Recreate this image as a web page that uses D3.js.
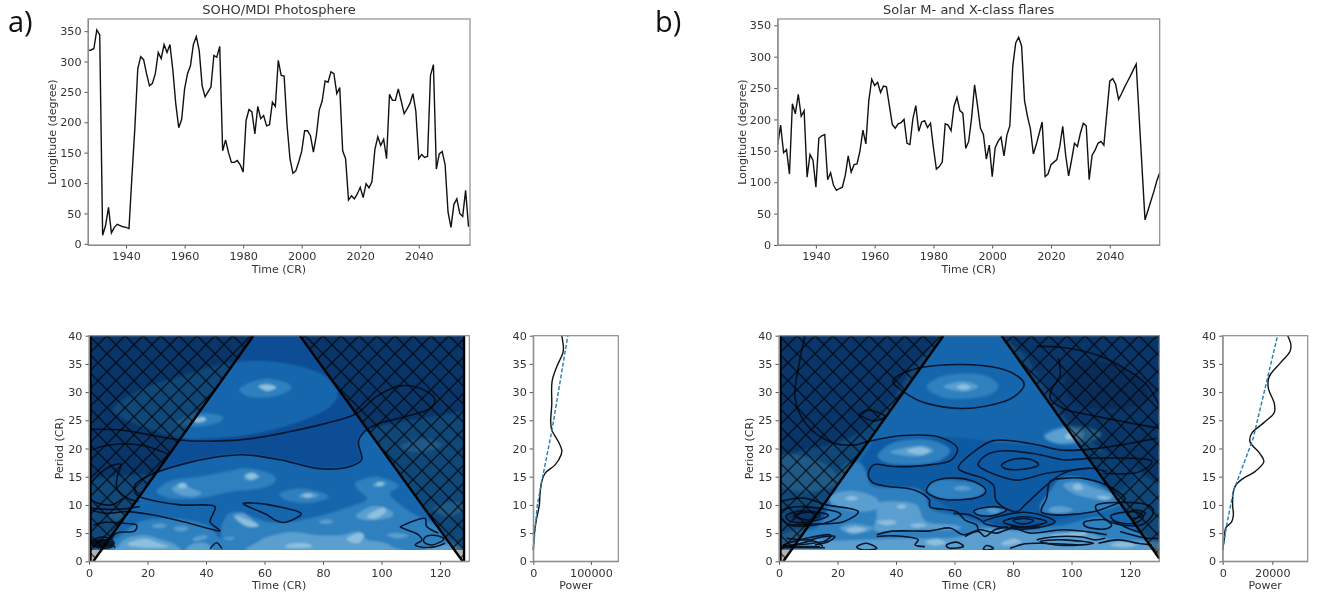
<!doctype html>
<html>
<head>
<meta charset="utf-8">
<script src="https://d3js.org/d3.v7.min.js"></script>
<style>
  html, body { margin: 0; padding: 0; background: #fff; overflow: hidden; }
  svg { display: block; filter: blur(0.45px); }
  text { font-family: "DejaVu Sans", sans-serif; fill: #333; }
  .domain { stroke: #8c8c8c; }
  .tick line { stroke: #555; }
</style>
</head>
<body>
<svg width="1317" height="597"></svg>
<script>
// carrington rotations for the two top panels
var crStart = 1927
var yearTicks = [1940, 1960, 1980, 2000, 2020, 2040]
var longTicks = [0, 50, 100, 150, 200, 250, 300, 350]
var timeTicks = [0, 20, 40, 60, 80, 100, 120]
var periodTicks = [0, 5, 10, 15, 20, 25, 30, 35, 40]

var longitudeMdi = [318,319,321,352,344,14,30,60,18,27,32,30,28,27,25,110,190,288,308,303,280,260,264,280,315,305,328,315,328,285,230,191,205,255,280,293,328,341,318,260,242,250,258,310,307,325,153,171,150,134,134,137,130,118,203,221,217,181,226,206,211,194,196,233,226,302,277,276,195,140,116,120,135,152,186,186,178,151,178,220,235,268,266,283,280,247,257,153,140,72,79,74,82,93,76,99,92,102,155,176,162,172,140,246,236,236,255,235,214,222,231,247,218,140,147,142,144,277,295,123,148,152,130,52,27,65,74,50,45,88,28]
var longitudeFlares = [160,191,147,152,113,225,209,240,205,214,108,144,135,92,170,174,176,104,115,95,87,90,92,111,142,116,128,129,150,183,161,230,264,254,259,243,253,252,222,192,186,193,195,200,162,160,201,222,181,196,198,187,194,155,121,125,132,193,191,182,221,235,214,210,154,165,203,255,222,186,176,137,159,109,155,165,172,142,175,190,285,322,331,317,230,205,185,145,160,178,196,109,113,128,132,136,157,189,143,110,135,162,157,178,194,190,104,143,151,162,165,159,210,261,265,256,232,241,251,260,269,279,288,205,122,40,55,70,85,102,115]

// global wavelet spectrum, [power, period]
var powerMdi = [[0,2],[2900,5.9],[5800,7.6],[10500,10],[11600,11.8],[14500,14.1],[20300,15.6],[37800,17.1],[48300,18.9],[49400,19.7],[43600,21.2],[32000,23.3],[30200,24.8],[32000,27.7],[32600,31.9],[40700,34.5],[51200,36.9],[52300,37.8],[49400,40]]
var signifMdi = [[0,2],[7000,10],[17400,15.6],[32000,23],[59900,40]]
var powerFlares = [[0,2],[670,4.1],[1200,5.9],[3600,7],[4300,8.2],[4000,10],[4300,12.4],[5600,13.7],[8300,14.7],[13000,15.9],[16600,17.7],[15000,19.1],[11000,21.2],[11700,22.7],[16400,24.5],[20800,26.4],[20800,28],[18400,30.7],[18700,32.7],[23100,35.1],[27100,37.2],[27500,38.4],[26200,40]]
var signifFlares = [[0,2],[1600,6.4],[4300,12.4],[12300,21.8],[22100,40]]

// filled wavelet power bands, traced as [time, period]
var mdiBand2 = [
  [[-5,13],[8,15],[20,15.5],[31,17.2],[42.5,18.5],[53,19],[65,18.1],[79,16.5],[89,16.9],[93,18.1],[92,21.2],[94.4,23.1],[100,24],[110,25],[128,26.5],[135,27],[135,1],[-5,1]],
  [[8.3,27.1],[17.4,30.4],[28.8,32.4],[47,35.1],[63,35.4],[77.8,33.6],[84.7,30.4],[82.4,27.4],[72.1,24.8],[57.3,22.7],[42.5,21.8],[32.3,21.8],[23.1,23],[12.9,25]]
]
var mdiBand3 = [
  [[9.5,4.1],[17.4,7],[28.8,7.6],[40.2,6.4],[44.8,4.1],[45.4,6.4],[49.4,8.8],[60.7,7],[68.7,7],[77.8,7.9],[85.8,9.1],[94.9,10.9],[91.5,12.9],[91.5,14.1],[98.3,15],[105.8,13.5],[102.9,11.8],[109.7,8.8],[116.6,7],[120,5.9],[124.6,3.5],[135,2],[135,1],[-5,1],[-5,3],[5,3.2]],
  [[23.4,12.7],[28.8,14.4],[38,15],[47.1,15.9],[53.9,16.5],[61.9,15.6],[63.6,14.1],[58.5,12.9],[49.4,12.4],[38,11.2],[28.8,11.1],[24.3,11.8]],
  [[65.5,12.1],[72.1,12.9],[80.1,12.1],[81.5,11.2],[74.4,10.3],[67,10.9]],
  [[51.6,30.7],[59.6,32.3],[67.6,31.6],[68.7,30.4],[63,29.2],[55,29.2]],
  [[30,24.8],[36.8,26.2],[44.8,25.9],[44.8,24.8],[38,23.9],[31.1,24.2]],
  [[106.9,20.6],[114.3,21.8],[120.6,20.6],[114.3,19.4],[108,19.7]],
  [[117.8,9.4],[124.6,10.6],[129,9.4],[122.3,7.9]],
  [[6,8.2],[10,9],[13,8],[10,7.2]]
]
var mdiBand4 = [
  [[28.3,12.9],[31.7,13.8],[35.1,12.9],[38.5,12.1],[35.7,11.5],[31.1,11.8]],
  [[52.8,15],[55.6,15.6],[58.5,15],[55,14.3]],
  [[71.6,11.6],[75.7,12.1],[78.5,11.6],[74.4,11.2]],
  [[91.5,8.3],[97.2,9.8],[102.9,9.1],[103.5,7.9],[97.2,7.3],[92.7,7.5]],
  [[97.2,13.7],[100.6,14.1],[101.2,13.5],[97.9,13.2]],
  [[78.5,7],[81.4,7.4],[83.6,7],[80.7,6.6]],
  [[21.4,6.3],[24.3,6.7],[26.6,6.3],[23.7,5.9]],
  [[28.8,5.9],[32.3,6.2],[34,5.7],[31.1,5.3]],
  [[49.4,7.9],[52.8,8.5],[57.4,6.6],[57.4,6.1],[52.8,6.4]],
  [[10,1.5],[10.5,3],[13,4.1],[19,4.6],[25,3.8],[29.5,2.9],[30,1.5]],
  [[35.7,4.1],[39.7,4.6],[40.2,4.1],[36.3,3.6]],
  [[46,4.1],[49.4,4.3],[48.8,3.8]],
  [[57,1.5],[58,3.5],[63,4.6],[70,5.2],[78,4.6],[86,4.6],[90,5.1],[93,5.2],[95,3.8],[100,3.4],[104,2.5],[105,1.5]],
  [[101.8,4.7],[105.2,5],[109.2,4.5],[105.2,4.1]],
  [[115,1.5],[117,2.8],[125,2.8],[126,1.5]],
  [[33,1.5],[35,3],[40,3.2],[42,1.5]]
]
var mdiBand5 = [
  [[30.5,13.6],[32.5,13.9],[33.5,13.2],[31,12.9]],
  [[53.5,15.3],[56,15.7],[57.5,15],[55,14.5]],
  [[73,11.8],[75,12],[76.5,11.6],[74.5,11.3]],
  [[58,31],[61,31.4],[64,30.8],[61,30.2]],
  [[36,25.2],[39,25.6],[40,25],[37,24.6]],
  [[95,8],[100,9.5],[101.5,8.8],[98,7.6]],
  [[98.5,14],[100.5,14],[100.5,13.5],[98.5,13.4]],
  [[13,3],[19,4],[24,3.2],[27,2.6],[20,2.4]],
  [[88,3.9],[92,5],[94,4.6],[92,3.2]],
  [[68,3],[74,3.2],[76,2.5],[68,2.4]],
  [[50,8],[54,7.4],[58,6.4],[54,6.2]]
]
var mdiContours = [
  [[0,23.4],[10.6,23.3],[20.9,22.4],[31.1,21.5],[42.5,21.3],[56.2,21.8],[68.7,23],[81.3,24.5],[91.5,26.2],[98.3,29.2],[106.3,31.1],[114.3,30.4],[118.3,28.6],[116.6,27.1],[108.6,25.7],[99.5,24.5],[94.4,23.1],[92.1,21.2],[93.2,18],[89.2,16.8],[79,16.4],[65.3,18],[52.8,18.9],[42.5,18.4],[31.1,17.1],[20.9,15.3],[15.7,13.5],[16.3,11.8],[20.9,10.9],[31.1,10],[43.1,9.7],[42.5,8.5],[41.4,7],[44.8,5.4],[40.2,5.9],[32.3,7],[22,8.2],[12.9,8.8],[6,8.5],[0,9.2]],
  [[0,19.5],[4,20.3],[10,20.8],[19,20.5],[27,19]],
  [[0,13.5],[3.8,15.6],[7.2,16.8],[10.9,17.2],[9.7,15],[9.5,12.9],[13.1,11.2],[16.9,10.6]],
  [[0,11.2],[2.6,10.4],[7.7,10],[11.7,11.2]],
  [[0,9.4],[9.5,9.2],[17.4,9.7]],
  [[1.5,6.4],[4.9,6.9],[12.9,6.7],[16.3,6.4],[15.7,5.4],[9.5,5],[7.7,3.8],[8.9,2.4]],
  [[41.4,2.2],[43.6,3.3],[45.4,2.3]],
  [[106.3,6.1],[110.3,7],[114.9,7.6],[115.4,6.2],[119.4,5]],
  [[106.3,6.1],[109,5.5],[112.6,4.7],[113.8,3.8],[111.5,2.9],[113.8,2.5],[118.3,2.6],[121.7,3.2]],
  [[1,3],[8,3]],
  [[1,3.4],[8,3.5]],
  [[1,2.7],[8,2.6]],
  [[1,3.2],[8,3.2]],
  [[1,2.9],[8,2.8]],
  [[1,3.7],[7,3.8]]
]
var mdiLoops = [
  [[52.8,10.3],[60.7,10.1],[71.6,8.8],[71.6,7.9],[67,6.9],[63.6,7.3],[60.7,8.3],[56.2,9.3]],
  [[114.4,3.5],[115.5,4.5],[119.5,4.5],[121.2,3.8],[117.2,2.9]],
  [[1,3.6],[5,4.3],[8.5,3.4],[7,2.4],[2,2.6]],
  [[1.5,3.2],[5,3.8],[7.5,3],[5,2.6]],
  [[2,3.4],[5,3.4],[7,2.8],[3,2.8]]
]

var flaresDark = [
  [[78,42],[85,36],[92,30],[100,24],[110,20],[120,17],[135,15],[135,42]],
  [[-5,42],[52,42],[44,33],[33,25],[22,21.5],[10,20],[-5,20]],
  [[3,8.5],[10,9.7],[17,8.5],[12,7],[5,7]],
  [[72,7],[83.6,8.5],[94.4,7],[83.6,5.7]]
]
var flaresShade = [
  [[31,20],[35,21.5],[60,22],[75,21],[90,20.5],[100,20],[112,19],[122,15],[100,8],[85,7],[71,7],[60,9],[50,12],[47,13],[33,13.5],[30.5,15],[28,17.5]]
]
var flaresDarkest = [
  [[98.3,33],[104,35.7],[117.7,34.2],[125.7,30.7],[124,27.7],[108.6,27.1],[99.5,28.9]]
]
var flaresBand3 = [
  [[27.7,17.4],[30.5,15],[32.8,13.2],[46.5,12.9],[49.9,11.5],[52.2,9.1],[59.6,8.2],[65.3,7.3],[71,6.4],[80.1,6],[85.8,5.9],[97.2,6.4],[108.6,7.9],[114.3,7],[130,3.5],[135,3],[135,1],[-5,1],[-5,3],[5,5.5],[13,6],[18,11],[22,17]],
  [[92.6,12.4],[96.1,14.7],[101.8,15],[108.6,13.8],[116.6,11.2],[117.7,10.3],[108.6,8.8],[92.6,8.5],[89.2,9.7]],
  [[50.5,12.9],[55,14.4],[65.3,14.1],[70.4,12.9],[66.4,11.2],[55,11.2]],
  [[34,19.1],[40.2,21.2],[51.6,21.5],[58.5,19.7],[53.9,17.7],[43.6,17.1],[35.7,17.7]],
  [[50.5,31],[57.3,33],[69.9,33],[75,31],[69.9,29.2],[57.3,28.9]],
  [[90.4,22.4],[97.2,23.9],[106.3,23.6],[110.3,22.4],[104,20.9],[94.9,20.9]],
  [[67,9.1],[73.3,9.7],[77.8,9.1],[73.3,8.1],[68.1,8.2]],
  [[104.6,7],[110.9,7.4],[113.7,6.4],[110.9,5.7],[105.2,6.1]],
  [[0,18.3],[6,18.9],[16.3,17.1],[20.3,14.1],[11.7,12.4],[0,13.5]]
]
var flaresBand4 = [
  [[17.4,11.5],[24.3,12.5],[32.3,11.5],[34.5,9.7],[28.8,8.8],[19.7,9.7]],
  [[34,10.3],[40.2,10.6],[47,10],[50.5,7],[60.7,6.4],[60.7,5.6],[47,5.6],[33.4,5.3],[33.4,7.9]],
  [[20.9,5.9],[25.4,6.6],[32.3,5.9],[25.4,4.8]],
  [[3,1],[10,4],[20,3.7],[40,4],[60,4.2],[70,5.8],[78,5.5],[90,5],[105,5],[112,4],[125,3.6],[135,3],[135,1]],
  [[56.2,31],[63,31.9],[68.1,31],[63,30.1]],
  [[38,19.4],[48.2,20.5],[52.8,19.6],[47,18.6]],
  [[90.9,22.1],[97.2,23.6],[104,23],[102.9,21.5],[96.1,20.9]],
  [[97.2,13.5],[101.8,14.1],[108.6,12.9],[114.3,11.8],[110.9,10.9],[101.8,11.8]],
  [[92.6,9.4],[96.1,9.8],[100.6,9.1],[96.1,8.5],[92.6,8.7]],
  [[71,9.1],[73.3,9.4],[75.6,8.9],[73.3,8.5]],
  [[59.6,12.9],[62.5,13.4],[65.9,12.9],[62.5,12.5]]
]
var flaresBand5 = [
  [[60.7,30.9],[63,31.4],[65.5,30.9],[63,30.4]],
  [[43.6,19.6],[48.2,20.2],[51.6,19.6],[48.2,18.9]],
  [[97.8,22.3],[100,22.9],[100.6,21.8],[98.3,21.7]],
  [[100.3,13.2],[102.3,13.8],[104,12.9],[101.8,12.6]],
  [[22.6,11.2],[24.8,11.6],[27.1,11.2],[24.8,10.8]],
  [[40.2,9.7],[41.9,10.1],[43.6,9.7],[41.9,9.3]],
  [[108.6,11.5],[110.9,11.6],[113.7,11.2],[110.9,10.9]],
  [[33.4,7],[37.9,7.3],[40.2,6.9],[36.8,6.4]],
  [[44.8,6.4],[47.6,6.7],[50.5,6.4],[47,6]],
  [[23,5.7],[26.6,6.1],[30,5.6],[25.4,5.1]],
  [[93.8,4.7],[104,5.3],[104,4.6],[93.8,4.4]],
  [[113.2,2.9],[117.7,3.4],[122.3,2.9],[117.7,2.5]],
  [[50,3.4],[54,4],[57,3.2],[53,2.8]],
  [[76,3.2],[80,4],[83,3.4],[78,2.8]]
]
var flaresContours = [
  [[88.1,38.1],[97.2,37.9],[108.6,36.6],[120,33.6],[125.7,31.3],[130,27.7]],
  [[95.5,36],[96.1,33],[93.2,30.4],[92.7,28.9],[97.2,27.1],[108.6,25.7],[130,23.6]],
  [[8.9,40],[6.6,34.2],[5.5,28.9],[9.5,24.2],[17.4,21.2],[25.4,20.6],[30,21.2],[42.5,22.3],[55,22],[61,20],[59,18],[51.6,17.1],[39.1,16.8],[32.3,17.1],[30.5,15.3],[31.7,14.1],[35.7,13.4],[46.5,12.6],[51.4,10.9],[51.6,9.7],[60.7,8.8],[63.6,7.3],[67.6,6.4],[68.1,5.3]],
  [[112,15.9],[106.3,16.5],[97.2,15.6],[91.5,13.5],[84.1,10],[81.3,8.8],[74.4,10.6],[73.3,13.5],[69.9,14.7],[61.3,16.5],[67.6,19.8],[73.3,21.4],[85.9,20.9],[97.2,19.7],[108.6,20],[129,21.8]],
  [[106.3,16.5],[91.5,15.6],[81.3,14.4],[74.4,15.3],[68.1,17.1],[71,18.9],[76.7,19.6],[89.2,18.9],[97.2,18],[108.6,18.3],[127.4,17.7],[123.4,15.9],[110.9,15.6]],
  [[33.4,4.7],[38,5.3],[51.6,5.4],[58.5,5.9],[63,4.7],[68.7,5.6],[74.4,5],[80,5.9],[85.8,5],[97.2,5.6],[108.6,5],[112,4.7]],
  [[59.6,8.5],[65.3,8.2],[69.9,7]],
  [[0.5,10.6],[8.3,11.2],[16.3,10],[27.1,8.8],[22,7],[10.6,6.6],[2.6,6.4]],
  [[116.6,5.3],[125.7,4.1],[130,4.1]],
  [[79,6.1],[89.2,6.1]],
  [[79,6],[89.2,6]],
  [[0.5,2.4],[15.7,2.4]],
  [[0.5,2.6],[14,2.6]],
  [[1,2.6],[6,3],[12,3.6],[15,2.6]],
  [[79,2.3],[84.1,3.1],[89.8,3.2],[102.4,2.9]],
  [[88.1,3.8],[93.2,4.3],[103.5,4.3],[108,3.8],[111.5,4.1]],
  [[109.2,3.2],[116,3.8],[122.8,3.2],[127.4,2.9]],
  [[63.6,4.4],[68.1,5.3],[70.4,4.4],[73.8,5.6],[78.4,6.1]],
  [[113.7,7.3],[118.3,6.1],[124,5]],
  [[2.6,4.1],[10,3.8],[15.7,4.4],[19.1,4.4],[16.9,3.5],[12.3,2.9]],
  [[33.4,4.4],[39.7,4.5],[47.6,3.8],[46.5,2.9],[49.9,2.6]]
]
var flaresLoops = [
  [[39.1,32.2],[47.1,34.2],[61.9,34.9],[75.6,34.2],[83,32.2],[83,30.4],[76.7,28.3],[63,27.1],[50.5,28],[42.5,30.1]],
  [[27.7,26.2],[31.1,26.8],[36.2,25.7],[32.3,24.9],[28.3,25.7]],
  [[50.5,12.9],[53.9,14.4],[61.9,14.7],[68.1,13.8],[70.7,12.4],[67,11.2],[57.3,10.9],[51.6,11.8]],
  [[76.1,17.1],[80.1,18.1],[85.8,18.1],[88.7,17.1],[84.7,16.4],[78.4,16.3]],
  [[89.8,9.4],[91.5,11.2],[92.6,14.1],[97.2,14.7],[104,14.7],[112,13.5],[118.3,11.2],[114.3,10],[107.5,8.8],[97.2,8.2],[90.4,8.5]],
  [[67,9.1],[73.3,9.7],[77.8,9.1],[73.3,8.1],[68.1,8.2]],
  [[76.7,7],[83.6,7.9],[91.5,7],[83.6,6.1]],
  [[69.9,6.9],[83.6,8.7],[94.4,7],[83.6,5.7]],
  [[80,7.2],[83.6,7.6],[87,7.2],[83.6,6.6]],
  [[89.2,3.5],[97.2,3.8],[107.5,3.2],[97.2,2.8]],
  [[26.6,2.6],[30,3.2],[33.4,2.3],[28.8,2]],
  [[57.3,2.9],[60.7,3.4],[63,2.6],[58.5,2.3]],
  [[69.9,2.2],[71,2.8],[73.3,2.3],[71,2]],
  [[104.6,7],[110.9,7.4],[113.7,6.4],[110.9,5.7],[105.2,6.1]],
  [[2.6,8.2],[8.3,8.9],[16.9,8.2],[10.6,7],[4.3,7]],
  [[4.9,8.1],[10.6,8.7],[14,8.1],[10,7.3]],
  [[0.5,8.8],[8.3,9.7],[20.9,8.5],[15.2,6.7],[3.8,6.4]],
  [[1.5,2.9],[9.5,4.1],[17.4,4.7],[15.2,3.5],[6,2.9]],
  [[113.7,8.2],[121.1,8.8],[124.6,7.9],[121.1,6.7],[115.4,7]],
  [[118.9,8.5],[121.8,9.1],[125.3,8.5],[121.3,7.6]],
  [[108.6,10],[123.4,10.3],[128,8.8],[123.4,6.4],[113.2,7]]
]

// cone of influence edges, [time, period]
var mdiCone = {left: [[1.5,0],[56.2,40]], right: [[72.1,40],[127.7,0]], tMin: 0.5, tMax: 128.2, edge: true}
var flaresCone = {left: [[1.5,0],[56.2,40]], right: [[76.1,40],[130,0.5]], tMin: 0.5, tMax: 130, edge: false}

var blues = ["#0a3f80", "#0b4e95", "#1766ad", "#2f80be", "#5a9fd0", "#8dc0de", "#115aa3"]

var svg = d3.select("svg")

var defs = svg.append("defs")
var hatch = defs.append("pattern").attr("id", "hatch").attr("patternUnits", "userSpaceOnUse")
    .attr("width", 18).attr("height", 18)
hatch.append("path").attr("d", "M0,0L18,18M0,18L18,0").attr("stroke", "#000").attr("stroke-width", 1.2).attr("opacity", 0.85)
defs.append("filter").attr("id", "soft").append("feGaussianBlur").attr("stdDeviation", 0.8)

function frameAxes(g, x, y, xt, yt, w, h) {
    var bottom = d3.axisBottom(x).tickValues(xt).tickSizeInner(3.5).tickSizeOuter(0).tickPadding(4).tickFormat(d3.format("d"))
    var left = d3.axisLeft(y).tickValues(yt).tickSizeInner(3.5).tickSizeOuter(0).tickPadding(3).tickFormat(d3.format("d"))
    g.append("g").attr("transform", "translate(0," + h + ")").call(bottom).attr("font-size", 11.2).attr("font-family", null)
    g.append("g").call(left).attr("font-size", 11.2).attr("font-family", null)
    g.append("rect").attr("width", w).attr("height", h).attr("fill", "none").attr("stroke", "#8c8c8c").attr("stroke-width", 1.2)
}

function label(g, txt, px, py, size, rotate) {
    var t = g.append("text").attr("text-anchor", "middle").attr("font-size", size).text(txt)
    if (rotate) t.attr("transform", "translate(" + px + "," + py + ") rotate(-90)")
    else t.attr("x", px).attr("y", py)
}

function longitudePanel(left, values, yMin, yMax, xMax, title) {
    var w = 382, h = 226
    var g = svg.append("g").attr("transform", "translate(" + left + ",19)")
    var x = d3.scaleLinear().domain([1927, xMax]).range([0, w])
    var y = d3.scaleLinear().domain([yMin, yMax]).range([h, 0])
    g.append("path").datum(values)
        .attr("fill", "none").attr("stroke", "#111").attr("stroke-width", 1.4)
        .attr("d", d3.line().x(function(d, i) { return x(crStart + i) }).y(function(d) { return y(d) }))
    frameAxes(g, x, y, yearTicks, longTicks, w, h)
    label(g, title, w / 2, -5, 13)
    label(g, "Time (CR)", w / 2, 253.5, 11)
    label(g, "Longitude (degree)", -32, h / 2, 11, true)
}

function waveletPanel(left, layers, contours, loops, cone, base) {
    var w = 380.3, h = 225.6
    var g = svg.append("g").attr("transform", "translate(" + left + ",335.7)")
    var x = d3.scaleLinear().domain([0, 130]).range([0, w])
    var y = d3.scaleLinear().domain([0, 40]).range([h, 0])
    var id = "clip" + Math.round(left)

    defs.append("clipPath").attr("id", id).append("rect")
        .attr("x", x(cone.tMin)).attr("y", y(40))
        .attr("width", x(cone.tMax) - x(cone.tMin)).attr("height", y(2) - y(40))
    var plot = g.append("g").attr("clip-path", "url(#" + id + ")")
    var fills = plot.append("g").attr("filter", "url(#soft)")
    fills.append("rect").attr("x", -10).attr("y", -10).attr("width", w + 20).attr("height", h + 20).attr("fill", blues[base])

    var blob = d3.line().x(function(d) { return x(d[0]) }).y(function(d) { return y(d[1]) }).curve(d3.curveCatmullRomClosed.alpha(0))
    var open = d3.line().x(function(d) { return x(d[0]) }).y(function(d) { return y(d[1]) }).curve(d3.curveCatmullRom.alpha(0.5))
    var straight = d3.line().x(function(d) { return x(d[0]) }).y(function(d) { return y(d[1]) })

    layers.forEach(function(layer) {
        fills.selectAll(null).data(layer.polys).enter().append("path")
            .attr("d", blob).attr("fill", blues[layer.level])
    })
    plot.selectAll(null).data(contours).enter().append("path")
        .attr("d", open).attr("fill", "none").attr("stroke", "#07172f").attr("stroke-width", 1.6)
    plot.selectAll(null).data(loops).enter().append("path")
        .attr("d", blob).attr("fill", "none").attr("stroke", "#07172f").attr("stroke-width", 1.6)

    // cone of influence, shaded and hatched
    var leftCone = [[cone.tMin, 0]].concat(cone.left, [[cone.tMin, 40]])
    var rightCone = cone.right.concat([[cone.tMax, 0], [cone.tMax, 40]])
    ;[leftCone, rightCone].forEach(function(c) {
        g.append("path").attr("d", straight(c) + "Z").attr("fill", "#000").attr("fill-opacity", 0.3)
        g.append("path").attr("d", straight(c) + "Z").attr("fill", "url(#hatch)")
    })
    var edges = [cone.left, cone.right, [[cone.tMin, 0], [cone.tMin, 40]]]
    if (cone.edge) edges.push([[cone.tMax, 0], [cone.tMax, 40]])
    g.selectAll(null).data(edges).enter().append("path")
        .attr("d", straight).attr("fill", "none").attr("stroke", "#000").attr("stroke-width", 2.4)

    frameAxes(g, x, y, timeTicks, periodTicks, w, h)
    label(g, "Time (CR)", w / 2, 253.5, 11)
    label(g, "Period (CR)", -26, h / 2, 11, true)
}

function powerPanel(left, solid, dashed, xMax, xt) {
    var w = 85, h = 225.6
    var g = svg.append("g").attr("transform", "translate(" + left + ",335.7)")
    var x = d3.scaleLinear().domain([0, xMax]).range([0, w])
    var y = d3.scaleLinear().domain([0, 40]).range([h, 0])
    var line = d3.line().x(function(d) { return x(d[0]) }).y(function(d) { return y(d[1]) })
    g.append("path").attr("d", line.curve(d3.curveCatmullRom.alpha(0.5))(solid))
        .attr("fill", "none").attr("stroke", "#111").attr("stroke-width", 1.4)
    g.append("path").attr("d", line.curve(d3.curveLinear)(dashed))
        .attr("fill", "none").attr("stroke", "#2b7bb0").attr("stroke-width", 1.4).attr("stroke-dasharray", "4,2")
    frameAxes(g, x, y, xt, periodTicks, w, h)
    label(g, "Power", w / 2, 253.5, 11)
}

longitudePanel(88, longitudeMdi, -2, 370, 2057.5, "SOHO/MDI Photosphere")
longitudePanel(777.7, longitudeFlares, 0, 360, 2057, "Solar M- and X-class flares")

waveletPanel(89, [
    {level: 2, polys: mdiBand2},
    {level: 3, polys: mdiBand3},
    {level: 4, polys: mdiBand4},
    {level: 5, polys: mdiBand5}
], mdiContours, mdiLoops, mdiCone, 1)
waveletPanel(779, [
    {level: 1, polys: flaresDark},
    {level: 6, polys: flaresShade},
    {level: 0, polys: flaresDarkest},
    {level: 3, polys: flaresBand3},
    {level: 4, polys: flaresBand4},
    {level: 5, polys: flaresBand5}
], flaresContours, flaresLoops, flaresCone, 2)

powerPanel(533.3, powerMdi, signifMdi, 147500, [0, 100000])
powerPanel(1222.7, powerFlares, signifFlares, 34270, [0, 20000])

svg.append("text").attr("x", 8).attr("y", 32).attr("font-size", 29).style("font-family", "'Open Sans'").style("fill", "#111").text("a)")
svg.append("text").attr("x", 655).attr("y", 32).attr("font-size", 29).style("font-family", "'Open Sans'").style("fill", "#111").text("b)")
</script>
</body>
</html>
